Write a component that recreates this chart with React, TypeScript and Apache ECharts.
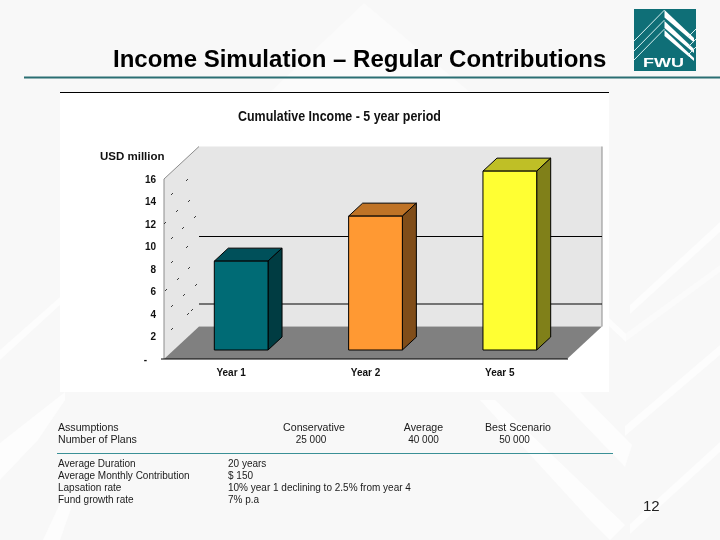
import React, { useEffect, useRef } from "react";
import * as echarts from "echarts";

const categories = ["Year 1", "Year 2", "Year 5"];
const incomeValues = [7.9, 11.9, 15.9];
const backWallGridValues = [2, 8];
const faces = [
  { front: "#006b75", top: "#00505a", side: "#003c42" },
  { front: "#ff9933", top: "#bf7326", side: "#804d19" },
  { front: "#ffff33", top: "#bfbf26", side: "#808019" },
];
const slideTitle = "Income Simulation \u2013 Regular Contributions";
const chartTitle = "Cumulative Income - 5 year period";
const axisUnit = "USD million";
const assumptionHead = ["Conservative", "Average", "Best Scenario"];
const planCounts = ["25 000", "40 000", "50 000"];
const assumptionLabels = ["Average Duration", "Average Monthly Contribution", "Lapsation rate", "Fund growth rate"];
const assumptionValues = ["20 years", "$ 150", "10% year 1 declining to 2.5% from year 4", "7% p.a"];
const wallMarks = [
  [172, 194], [187, 180], [189, 201], [177, 211], [195, 217], [183, 228], [172, 238], [187, 247], [172, 262],
  [189, 268], [178, 279], [196, 285], [184, 295], [166, 290], [172, 306], [192, 310], [188, 314], [172, 329], [165, 223],
];

const FONT = "'Liberation Sans', Arial, sans-serif";
const DX = 35;
const DY = 32.5;

function band(points: number[][], fill = "#fdfdfd") {
  return { type: "polygon", z: -9, silent: true, shape: { points }, style: { fill } };
}
function txt(x: number, y: number, text: string, o: any = {}, extra: any = {}) {
  return {
    type: "text", x, y, z: 20, silent: true,
    style: { text, fill: "#1a1a1a", font: `10px ${FONT}`, textVerticalAlign: "middle", ...o },
    ...extra,
  };
}

export default function App() {
  const ref = useRef<HTMLDivElement>(null);
  useEffect(() => {
    const chart = echarts.init(ref.current!, null, { renderer: "svg" });
    const head = { font: `10.6px ${FONT}` };
    const graphic: any[] = [
      { type: "rect", z: -10, silent: true, shape: { x: 0, y: 0, width: 720, height: 540 }, style: { fill: "#f8f8f8" } },
      band([[364, 3], [270, 92], [470, 92]], "#fbfbfb"),
      // pale chevrons of the slide background
      band([[0, 350], [60, 297], [60, 305], [0, 360]]),
      band([[0, 443], [65, 392], [65, 400], [38, 440], [0, 480]]),
      band([[43, 540], [63, 497], [75, 497], [60, 540]]),
      band([[630, 305], [720, 222], [720, 232], [630, 314]]),
      band([[625, 426], [720, 345], [720, 355], [625, 436]]),
      band([[630, 524], [720, 442], [720, 452], [630, 534]]),
      band([[625, 334], [720, 265], [720, 272], [625, 342]], "#fbfbfb"),
      band([[609, 318], [626, 334], [626, 342], [609, 326]]),
      band([[553, 392], [580, 392], [632, 445], [625, 467]]),
      band([[480, 400], [495, 400], [625, 525], [610, 540], [590, 520]]),
      { type: "rect", z: -8, silent: true, shape: { x: 60, y: 92, width: 549, height: 300 }, style: { fill: "#ffffff" } },
      { type: "line", z: 5, silent: true, shape: { x1: 60, y1: 92.5, x2: 609, y2: 92.5 }, style: { stroke: "#000", lineWidth: 1 } },
      { type: "line", z: 5, silent: true, shape: { x1: 24, y1: 77.5, x2: 720, y2: 77.5 }, style: { stroke: "#2b6f73", lineWidth: 2 } },
      { type: "line", z: 5, silent: true, shape: { x1: 57, y1: 453.5, x2: 613, y2: 453.5 }, style: { stroke: "#3a9096", lineWidth: 1 } },
      txt(113, 58, slideTitle, { font: `bold 24px ${FONT}`, fill: "#000" }),
      txt(238, 116, chartTitle, { font: `bold 14px ${FONT}`, fill: "#111" }, { scaleX: 0.89 }),
      txt(100, 156, axisUnit, { font: `bold 11.5px ${FONT}`, fill: "#111" }),
      txt(58, 427, "Assumptions", head),
      txt(58, 439, "Number of Plans", head),
      ...assumptionHead.map((t, i) => txt([314, 423.5, 518][i], 427, t, { ...head, textAlign: "center" })),
      ...planCounts.map((t, i) => txt([311, 423.5, 514.5][i], 439, t, { textAlign: "center" })),
      ...assumptionLabels.map((t, i) => txt(58, 463 + i * 12, t)),
      ...assumptionValues.map((t, i) => txt(228, 463 + i * 12, t)),
      txt(643, 505, "12", { font: `15px ${FONT}`, fill: "#222" }),
      ...wallMarks.map(([x, y]) => ({
        type: "line", z: 6, silent: true, shape: { x1: x - 1, y1: y + 1, x2: x + 1, y2: y - 1 }, style: { stroke: "#111", lineWidth: 0.8 },
      })),
      // logo
      { type: "rect", z: 20, silent: true, shape: { x: 634, y: 9, width: 62, height: 62 }, style: { fill: "#0f6f77" } },
      ...[[41, 10], [51, 20], [60, 29]].map(([yl, yt]) => ({
        type: "polyline", z: 21, silent: true, shape: { points: [[634, yl], [664.5, yt]] }, style: { stroke: "#d8f0f0", lineWidth: 1, fill: "none" },
      })),
      ...[[10, 4.5], [21, 4], [30, 3]].map(([yt, th]) => ({
        type: "polygon", z: 21, silent: true, shape: { points: [[664.5, yt], [694, yt + 28], [694, yt + 28 + th], [664.5, yt + th + 3]] }, style: { fill: "#ffffff" },
      })),
      ...[[29, 37], [39, 47], [47, 55]].map(([yr, yl]) => ({
        type: "line", z: 21, silent: true, shape: { x1: 696, y1: yr, x2: 688, y2: yl }, style: { stroke: "#d8f0f0", lineWidth: 1 },
      })),
      { type: "rect", z: 22, silent: true, shape: { x: 640, y: 57, width: 50, height: 12 }, style: { fill: "#0f6f77" } },
      { type: "text", z: 23, silent: true, x: 643, y: 57, scaleX: 1.5, style: { text: "FWU", fill: "#fff", font: `bold 12px ${FONT}` } },
    ];

    chart.setOption({
      animation: false,
      graphic,
      grid: { left: 164, top: 179, width: 403, height: 180 },
      xAxis: {
        type: "category", data: categories, z: 3,
        axisLine: { show: false },
        axisTick: { show: false },
        axisLabel: { margin: 8, fontFamily: FONT, fontSize: 10, fontWeight: "bold", color: "#111" },
      },
      yAxis: {
        type: "value", min: 0, max: 16, interval: 2, z: 3,
        axisLine: { show: false },
        axisTick: { show: false },
        splitLine: { show: false },
        axisLabel: {
          margin: 8, fontFamily: FONT, fontSize: 10, fontWeight: "bold", color: "#111",
          formatter: (v: number) => (v === 0 ? "{z|-}" : String(v)),
          rich: { z: { padding: [0, 9, 0, 0], fontFamily: FONT, fontSize: 10, fontWeight: "bold", color: "#111" } },
        },
      },
      series: [
        {
          type: "custom", z: 1, clip: false, silent: true, data: [[0, 0]],
          renderItem: (params: any, api: any) => {
            const c = params.coordSys;
            const l = c.x, r = c.x + c.width, t = c.y, b = c.y + c.height;
            const children: any[] = [
              { type: "polygon", shape: { points: [[l + DX, t - DY], [r + DX, t - DY], [r + DX, b - DY], [l + DX, b - DY]] }, style: { fill: "#e6e6e6" } },
              { type: "polygon", shape: { points: [[l, t], [l + DX, t - DY], [l + DX, b - DY], [l, b]] }, style: { fill: "#e6e6e6" } },
              { type: "polygon", shape: { points: [[l, b], [l + DX, b - DY], [r + DX, b - DY], [r, b]] }, style: { fill: "#808080" } },
              { type: "polyline", shape: { points: [[l, b], [l, t], [l + DX, t - DY]] }, style: { stroke: "#8c8c8c", lineWidth: 1, fill: "none" } },
              { type: "line", shape: { x1: r + DX, y1: t - DY, x2: r + DX, y2: b - DY }, style: { stroke: "#8c8c8c", lineWidth: 1 } },
              { type: "line", shape: { x1: l - 3, y1: b, x2: r + 1, y2: b }, style: { stroke: "#000", lineWidth: 1 } },
            ];
            backWallGridValues.forEach((v) => {
              const y = api.coord([0, v])[1] - DY;
              children.push({ type: "line", shape: { x1: l + DX, y1: y, x2: r + DX, y2: y }, style: { stroke: "#000", lineWidth: 1 } });
            });
            return { type: "group", children };
          },
        },
        {
          type: "custom", z: 4, clip: false, silent: true,
          encode: { x: 0, y: 1 },
          data: incomeValues.map((v, i) => [i, v]),
          renderItem: (_: any, api: any) => {
            const i = api.value(0);
            const w = api.size([1, 0])[0] * 0.4;
            const ox = 10, oy = 9, dx = 14, dy = 13;
            const top = api.coord([i, api.value(1)]);
            const bottom = api.coord([i, 0]);
            const x0 = top[0] + ox - w / 2, x1 = x0 + w, y0 = top[1] - oy, y1 = bottom[1] - oy;
            const f = faces[i];
            const s = { stroke: "#000", lineWidth: 1 };
            return {
              type: "group",
              children: [
                { type: "polygon", shape: { points: [[x0, y0], [x0 + dx, y0 - dy], [x1 + dx, y0 - dy], [x1, y0]] }, style: { fill: f.top, ...s } },
                { type: "polygon", shape: { points: [[x1, y0], [x1 + dx, y0 - dy], [x1 + dx, y1 - dy], [x1, y1]] }, style: { fill: f.side, ...s } },
                { type: "rect", shape: { x: x0, y: y0, width: w, height: y1 - y0 }, style: { fill: f.front, ...s } },
              ],
            };
          },
        },
      ],
    });
    return () => chart.dispose();
  }, []);
  return <div ref={ref} style={{ position: "fixed", left: 0, top: 0, width: 720, height: 540 }} />;
}
